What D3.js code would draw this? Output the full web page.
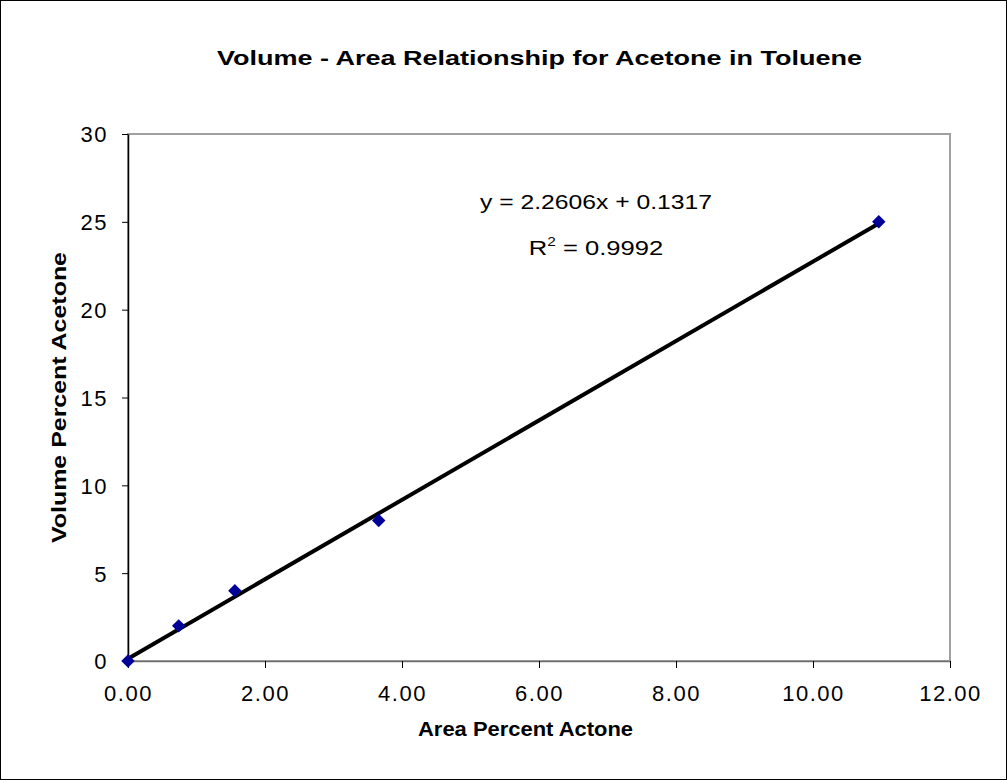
<!DOCTYPE html>
<html lang="en">
<head>
<meta charset="UTF-8">
<title>Volume - Area Relationship for Acetone in Toluene</title>
<script src="https://d3js.org/d3.v7.min.js"></script>
<style>
  body { margin: 0; background: #fff; }
  text { font-family: "Liberation Sans", Arial, sans-serif; }
</style>
</head>
<body>
<script>
// data
var areaPct = [0.00, 0.74, 1.56, 3.66, 10.96];
var volumePct = [0, 2, 4, 8, 25];
var xTicks = [0, 2, 4, 6, 8, 10, 12];
var yTicks = [0, 5, 10, 15, 20, 25, 30];
var fitSlope = 2.2606, fitIntercept = 0.1317;

var W = 1007, H = 780;
var margin = {top: 134, right: 57, bottom: 119, left: 128};

var svg = d3.select("body").append("svg")
  .attr("width", W)
  .attr("height", H);

// outer frame
svg.append("rect")
  .attr("x", 0.5).attr("y", 0.5)
  .attr("width", W - 1).attr("height", H - 1)
  .attr("fill", "#fff").attr("stroke", "#000");

var x = d3.scaleLinear().domain([0, 12]).range([margin.left, W - margin.right]);
var y = d3.scaleLinear().domain([0, 30]).range([H - margin.bottom, margin.top]);

// plot area border (grey)
svg.append("rect")
  .attr("x", x(0)).attr("y", y(30))
  .attr("width", x(12) - x(0)).attr("height", y(0) - y(30))
  .attr("fill", "none").attr("stroke", "#a0a0a0").attr("stroke-width", 2);

// axes
var xAxis = svg.append("g")
  .attr("transform", "translate(0," + y(0) + ")")
  .call(d3.axisBottom(x).tickValues(xTicks).tickSize(7).tickSizeOuter(0).tickFormat(d3.format(".2f")));
var yAxis = svg.append("g")
  .attr("transform", "translate(" + x(0) + ",0)")
  .call(d3.axisLeft(y).tickValues(yTicks).tickSize(6).tickSizeOuter(0).tickFormat(d3.format("d")));

xAxis.select(".domain").attr("stroke", "#707070").attr("stroke-width", 1.5);
xAxis.selectAll(".tick line").attr("stroke", "#000");
xAxis.selectAll(".tick text")
  .attr("font-size", 22).attr("letter-spacing", "1.5px").attr("fill", "#000")
  .attr("y", 40).attr("dy", 0);
yAxis.select(".domain").attr("stroke", "#000").attr("stroke-width", 1.5);
yAxis.selectAll(".tick line").attr("stroke", "#000");
yAxis.selectAll(".tick text")
  .attr("font-size", 22).attr("letter-spacing", "1.5px").attr("fill", "#000")
  .attr("x", -20).attr("dy", "0.36em");

// trendline
var x0 = d3.min(areaPct), x1 = d3.max(areaPct);
svg.append("line")
  .attr("x1", x(x0)).attr("y1", y(fitSlope * x0 + fitIntercept))
  .attr("x2", x(x1)).attr("y2", y(fitSlope * x1 + fitIntercept))
  .attr("stroke", "#000").attr("stroke-width", 4);

// markers
svg.selectAll(".pt")
  .data(areaPct)
  .enter()
  .append("path")
  .attr("class", "pt")
  .attr("d", d3.symbol().type(d3.symbolDiamond2).size(115))
  .attr("transform", function(d, i) { return "translate(" + x(d) + "," + y(volumePct[i]) + ")"; })
  .attr("fill", "#000099");

// equation
svg.append("text")
  .attr("x", 480).attr("y", 209)
  .attr("font-size", 20)
  .attr("textLength", 232).attr("lengthAdjust", "spacingAndGlyphs")
  .text("y = 2.2606x + 0.1317");
var r2 = svg.append("g")
  .attr("transform", "translate(596,255) scale(1.28,1)")
  .append("text")
  .attr("text-anchor", "middle").attr("font-size", 20);
r2.append("tspan").text("R");
r2.append("tspan").attr("font-size", 12).attr("dy", -9).text("2");
r2.append("tspan").attr("dy", 9).text(" = 0.9992");

// titles
svg.append("text")
  .attr("x", 217).attr("y", 65)
  .attr("font-size", 20).attr("font-weight", "bold")
  .attr("textLength", 645).attr("lengthAdjust", "spacingAndGlyphs")
  .text("Volume - Area Relationship for Acetone in Toluene");
svg.append("text")
  .attr("x", 418).attr("y", 736)
  .attr("font-size", 20).attr("font-weight", "bold")
  .attr("textLength", 215).attr("lengthAdjust", "spacingAndGlyphs")
  .text("Area Percent Actone");
svg.append("text")
  .attr("transform", "translate(66,543) rotate(-90)")
  .attr("font-size", 20).attr("font-weight", "bold")
  .attr("textLength", 291).attr("lengthAdjust", "spacingAndGlyphs")
  .text("Volume Percent Acetone");
</script>
</body>
</html>
